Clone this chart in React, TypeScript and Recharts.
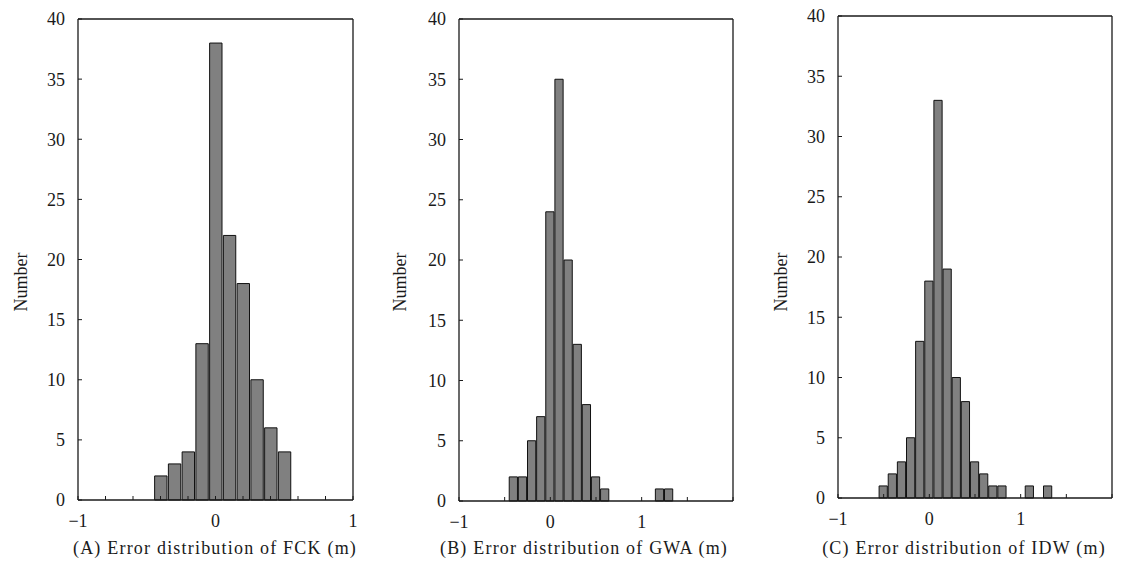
import React from "react"
import { Bar, BarChart, XAxis, YAxis } from "recharts"

// bin centres (m) and counts
const fckBins = [-0.4, -0.3, -0.2, -0.1, 0, 0.1, 0.2, 0.3, 0.4, 0.5]
const fckCounts = [2, 3, 4, 13, 38, 22, 18, 10, 6, 4]

const gwaBins = [-0.4, -0.3, -0.2, -0.1, 0, 0.1, 0.2, 0.3, 0.4, 0.5, 0.6, 1.2, 1.3]
const gwaCounts = [2, 2, 5, 7, 24, 35, 20, 13, 8, 2, 1, 1, 1]

const idwBins = [-0.5, -0.4, -0.3, -0.2, -0.1, 0, 0.1, 0.2, 0.3, 0.4, 0.5, 0.6, 0.7, 0.8, 1.1, 1.3]
const idwCounts = [1, 2, 3, 5, 13, 18, 33, 19, 10, 8, 3, 2, 1, 1, 1, 1]

const yTicks = [0, 5, 10, 15, 20, 25, 30, 35, 40]
const xTicksNarrow = [-1, -0.8, -0.6, -0.4, -0.2, 0, 0.2, 0.4, 0.6, 0.8, 1]
const xTicksWide = [-1, -0.5, 0, 0.5, 1, 1.5, 2]
const xLabels: Record<string, string> = { "-1": "\u22121", "0": "0", "1": "1" }

const captions = [
  "(A) Error distribution of FCK (m)",
  "(B) Error distribution of GWA (m)",
  "(C) Error distribution of IDW (m)",
]

const FONT = "'Liberation Serif', serif"
const INK = "#1a1a1a"
const BIN_WIDTH = 0.1

const toRows = (bins: number[], counts: number[]) =>
  bins.map((x, i) => ({ x, count: counts[i] }))

// plot box of each panel, in page pixels
type Box = { x0: number; x1: number; y0: number; y1: number }

type PanelProps = {
  bins: number[]
  counts: number[]
  domain: [number, number]
  xTicks: number[]
  left: number
  width: number
  box: Box
}

const H = 560
const Y_AXIS_W = 60
const X_AXIS_H = 30

function Panel({ bins, counts, domain, xTicks, left, width, box }: PanelProps) {
  const margin = {
    top: box.y0 - 1,
    bottom: H - box.y1 - X_AXIS_H,
    left: box.x0 - left - Y_AXIS_W,
    right: left + width - box.x1 - 1,
  }
  const plotWidth = box.x1 - box.x0
  const barSize = (plotWidth * BIN_WIDTH) / (domain[1] - domain[0])
  const tickStyle = { fontSize: 18, fill: INK, fontFamily: FONT }
  const axisLine = { stroke: INK, strokeWidth: 1.3 }
  return (
    <div style={{ position: "absolute", left, top: 0 }}>
      <BarChart
        width={width}
        height={H}
        data={toRows(bins, counts)}
        margin={margin}
        barCategoryGap={0}
        barGap={0}
      >
        <XAxis
          dataKey="x"
          type="number"
          domain={domain}
          ticks={xTicks}
          interval={0}
          height={X_AXIS_H}
          tick={tickStyle}
          tickFormatter={(v: number) => xLabels[String(v)] ?? ""}
          tickSize={-4}
          tickMargin={18}
          axisLine={axisLine}
          tickLine={{ stroke: INK }}
          allowDataOverflow
        />
        <XAxis
          xAxisId="top"
          orientation="top"
          type="number"
          domain={domain}
          ticks={xTicks}
          interval={0}
          height={1}
          tick={false}
          tickSize={-4}
          axisLine={axisLine}
          tickLine={{ stroke: INK }}
          allowDataOverflow
        />
        <YAxis
          type="number"
          domain={[0, 40]}
          ticks={yTicks}
          interval={0}
          width={Y_AXIS_W}
          tick={tickStyle}
          tickSize={-4}
          tickMargin={17}
          axisLine={axisLine}
          tickLine={{ stroke: INK }}
        />
        <YAxis
          yAxisId="right"
          orientation="right"
          type="number"
          domain={[0, 40]}
          ticks={yTicks}
          interval={0}
          width={1}
          tick={false}
          tickSize={-4}
          axisLine={axisLine}
          tickLine={{ stroke: INK }}
        />
        <Bar
          dataKey="count"
          fill="#808080"
          stroke="#111"
          strokeWidth={1}
          barSize={barSize}
          isAnimationActive={false}
        />
      </BarChart>
    </div>
  )
}

const textStyle: React.CSSProperties = {
  position: "absolute",
  fontFamily: FONT,
  fontSize: 18,
  color: INK,
  whiteSpace: "nowrap",
  lineHeight: "20px",
}

function YTitle({ x }: { x: number }) {
  return (
    <div
      style={{
        ...textStyle,
        left: x,
        top: 282,
        transform: "translate(-50%, -50%) rotate(-90deg)",
      }}
    >
      Number
    </div>
  )
}

function Caption({ x, text }: { x: number; text: string }) {
  return (
    <div
      style={{
        ...textStyle,
        left: x,
        top: 548,
        letterSpacing: 1.2,
        transform: "translate(-50%, -50%)",
      }}
    >
      {text}
    </div>
  )
}

export default function App() {
  return (
    <div
      style={{
        position: "absolute",
        left: 0,
        top: 0,
        width: 1131,
        height: 576,
        background: "#fff",
        overflow: "hidden",
      }}
    >
      <Panel
        bins={fckBins}
        counts={fckCounts}
        domain={[-1, 1]}
        xTicks={xTicksNarrow}
        left={0}
        width={380}
        box={{ x0: 78, x1: 353, y0: 19, y1: 500 }}
      />
      <Panel
        bins={gwaBins}
        counts={gwaCounts}
        domain={[-1, 2]}
        xTicks={xTicksWide}
        left={380}
        width={380}
        box={{ x0: 459, x1: 733, y0: 19, y1: 501 }}
      />
      <Panel
        bins={idwBins}
        counts={idwCounts}
        domain={[-1, 2]}
        xTicks={xTicksWide}
        left={760}
        width={371}
        box={{ x0: 838, x1: 1112, y0: 16, y1: 498 }}
      />
      <YTitle x={21} />
      <YTitle x={400} />
      <YTitle x={781} />
      <Caption x={215} text={captions[0]} />
      <Caption x={584} text={captions[1]} />
      <Caption x={964} text={captions[2]} />
    </div>
  )
}
